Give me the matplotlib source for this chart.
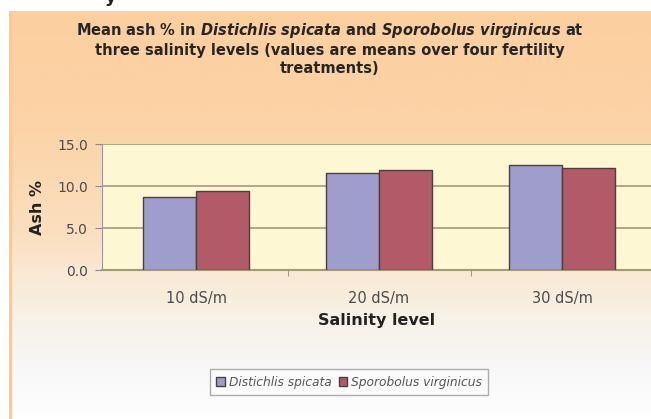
import numpy as np
import matplotlib
matplotlib.use("Agg")
import matplotlib.pyplot as plt
from matplotlib.colors import LinearSegmentedColormap

# data
categories = ["10 dS/m", "20 dS/m", "30 dS/m"]
distichlis = [8.7, 11.6, 12.5]
sporobolus = [9.4, 11.9, 12.2]
yticks = [0.0, 5.0, 10.0, 15.0]
series_names = ["Distichlis spicata", "Sporobolus virginicus"]

plt.rcParams['font.family'] = ['DejaVu Sans']
plt.rcParams['mathtext.fontset'] = 'custom'
plt.rcParams['mathtext.rm'] = 'DejaVu Sans:bold'
plt.rcParams['mathtext.bf'] = 'DejaVu Sans:bold'
plt.rcParams['mathtext.it'] = 'DejaVu Sans:italic:bold'

W, H = 651, 419
fig = plt.figure(figsize=(W / 100, H / 100), dpi=100)
fig.patch.set_facecolor('white')

# background gradient of the chart area (peach at top -> white at bottom)
bg = fig.add_axes([9 / W, 0, 1 - 9 / W, (H - 11) / H])
bg.set_axis_off()
grad_cmap = LinearSegmentedColormap.from_list(
    'bg', [(0.0, '#fccf9f'), (0.30, '#fcd4a8'), (0.55, '#fbdfc0'),
           (0.66, '#f9ead6'), (0.75, '#f7f1e6'), (0.86, '#f8f6f6'),
           (1.0, '#ffffff')])
grad = np.linspace(0, 1, 256).reshape(-1, 1)
bg.imshow(grad, aspect='auto', cmap=grad_cmap, extent=[0, 1, 0, 1], origin='upper')
bg.set_xlim(0, 1)
bg.set_ylim(0, 1)
bg.axvline(0.002, color='#fcc98e', lw=2.5)

# cut-off glyph at the very top
fig.text(111 / W, 1 - 2 / H, 'y', fontsize=13, fontweight='bold',
         color='#222222', va='baseline', ha='center')

# plot area
ax = fig.add_axes([102 / W, (H - 270) / H, (W - 102) / W, 126 / H])
ax.set_facecolor('#fef7d3')

x = np.arange(len(categories))
bw = 0.29
ax.bar(x - bw / 2, distichlis, bw, color='#9f9dcb', edgecolor='#4a4040',
       linewidth=1.0, label=series_names[0], zorder=3)
ax.bar(x + bw / 2, sporobolus, bw, color='#b25a68', edgecolor='#4a4040',
       linewidth=1.0, label=series_names[1], zorder=3)

ax.set_xlim(-0.514, 2.486)
ax.set_ylim(0, 15)
ax.set_yticks(yticks)
ax.set_yticklabels(['%.1f' % v for v in yticks], fontsize=10, color='#4c4c4c')
ax.yaxis.grid(True, color='#a39a7c', lw=1.2, zorder=1)
ax.set_axisbelow(True)
ax.tick_params(axis='y', length=5, color='#8a8a8a', pad=5)

ax.set_xticks(x)
ax.set_xticklabels(categories, fontsize=10.5, color='#4c4c4c')
ax.set_xticks([0.5, 1.5], minor=True)
ax.tick_params(axis='x', which='major', length=0, pad=15)
ax.tick_params(axis='x', which='minor', length=4, color='#8a8a8a')

for s in ['top', 'right']:
    ax.spines[s].set_visible(False)
ax.spines['left'].set_color('#9a9a9a')
ax.spines['bottom'].set_color('#a39a7c')
ax.spines['bottom'].set_linewidth(1.5)

ax.set_ylabel('Ash %', fontsize=11.5, fontweight='bold', color='#222222', labelpad=9)
ax.set_xlabel('Salinity level', fontsize=11.5, fontweight='bold', color='#222222', labelpad=5)

# title, with the species names in italics
title = ('Mean ash % in $\\it{Distichlis\\ spicata}$ and $\\it{Sporobolus\\ virginicus}$ at\n'
         'three salinity levels (values are means over four fertility\n'
         'treatments)')
fig.text(330 / W, 1 - 21 / H, title, ha='center', va='top', fontsize=10.5,
         fontweight='bold', color='#262626', linespacing=1.25)

leg = fig.legend(loc='center', bbox_to_anchor=(349 / W, 1 - 382 / H),
                 ncol=2, frameon=True, handlelength=0.7,
                 handleheight=0.7, handletextpad=0.3, columnspacing=0.6,
                 borderpad=0.5, fancybox=False, prop={'style': 'italic', 'size': 8.8})
leg.get_frame().set_edgecolor('#9a9a9a')
leg.get_frame().set_facecolor('#fcfcfc')
for t in leg.get_texts():
    t.set_color('#555555')

fig.savefig('out.png', dpi=100)
